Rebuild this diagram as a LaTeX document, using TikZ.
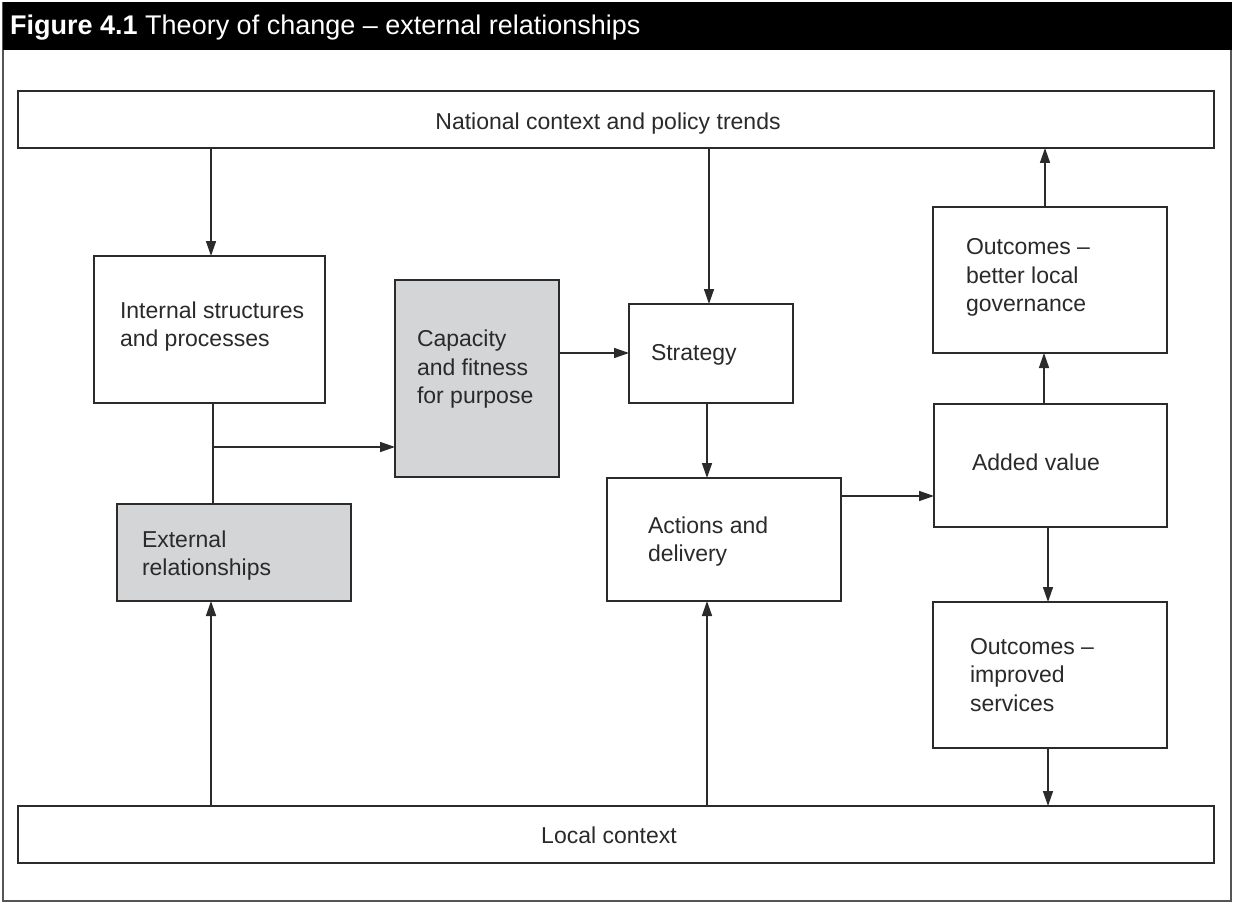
\documentclass[tikz,border=0pt]{standalone}
\usepackage{fontspec}
\setmainfont{Liberation Sans}
\usetikzlibrary{arrows.meta}
\definecolor{linec}{HTML}{2B2B2B}
\definecolor{textc}{HTML}{2A2A2A}
\definecolor{shade}{HTML}{D4D5D7}
\definecolor{framec}{HTML}{555555}
\begin{document}
\begin{tikzpicture}[x=1pt,y=-1pt,
  box/.style={draw=linec, line width=1.5pt, inner sep=0pt, outer sep=0pt, anchor=north west, fill=white},
  grey/.style={fill=shade},
  % multi-line labels are placed by the baseline of their last line
  txt/.style={inner sep=0pt, outer sep=0pt, anchor=base west, align=left, text=textc,
    font=\fontsize{23}{28.3}\selectfont},
  ctxt/.style={txt, anchor=base},
  arr/.style={draw=linec, line width=1.5pt, -{Triangle[length=15pt,width=10pt]}},
  link/.style={draw=linec, line width=1.5pt}]
\useasboundingbox (0,0) rectangle (1234,904);
% frame and title bar
\draw[framec, line width=1.5pt] (3,3) rectangle (1231,901);
\fill[black] (2.5,2.5) rectangle (1231.5,50);
\node[anchor=base west, inner sep=0pt, text=white, font=\fontsize{27}{30}\selectfont] (title) at (10,35)
  {\textbf{Figure 4.1} Theory of change – external relationships};

% boxes
\node[box, minimum width=1196pt, minimum height=57pt] (nat) at (18,91) {};
\node[box, minimum width=231pt, minimum height=147pt] (int) at (94,256) {};
\node[box, grey, minimum width=164pt, minimum height=197pt] (cap) at (395,280) {};
\node[box, minimum width=164pt, minimum height=99pt] (str) at (629,304) {};
\node[box, minimum width=234pt, minimum height=123pt] (act) at (607,478) {};
\node[box, minimum width=233pt, minimum height=123pt] (add) at (934,404) {};
\node[box, minimum width=234pt, minimum height=146pt] (obg) at (933,207) {};
\node[box, minimum width=234pt, minimum height=146pt] (ois) at (933,602) {};
\node[box, grey, minimum width=234pt, minimum height=97pt] (ext) at (117,504) {};
\node[box, minimum width=1196pt, minimum height=57pt] (loc) at (18,806) {};

% labels
\node[ctxt] (natT) at (608,130) {National context and policy trends};
\node[ctxt] (locT) at (609,843) {Local context};
\node[txt] (intT) at (120,346.5) {Internal structures\\and processes};
\node[txt] (capT) at (417,403.5) {Capacity\\and fitness\\for purpose};
\node[txt] (strT) at (651,360) {Strategy};
\node[txt] (actT) at (648,561.5) {Actions and\\delivery};
\node[txt] (addT) at (972,470) {Added value};
\node[txt] (obgT) at (966,311.5) {Outcomes –\\better local\\governance};
\node[txt] (oisT) at (970,711) {Outcomes –\\improved\\services};
\node[txt] (extT) at (142,575.5) {External\\relationships};

% connectors
\draw[arr] ([xshift=1.5pt]int.north |- nat.south) -- ([xshift=1.5pt]int.north);
\draw[arr] ([xshift=-2pt]str.north |- nat.south) -- ([xshift=-2pt]str.north);
\draw[arr] ([xshift=-5pt]obg.north) -- ([xshift=-5pt]obg.north |- nat.south);
\draw[link] ([xshift=3.5pt]int.south) -- ([xshift=3.5pt]int.south |- ext.north);
\coordinate (branch) at ([xshift=3.5pt,yshift=-44pt]int.south);
\draw[arr] (branch) -- (branch -| cap.west);
\draw[arr] ([yshift=0.5pt]str.west -| cap.east) -- ([yshift=0.5pt]str.west);
\draw[arr] ([xshift=-4pt]str.south) -- ([xshift=-4pt]str.south |- act.north);
\draw[arr] ([yshift=-18pt]act.north east) -- ([yshift=-18pt]act.north east -| add.west);
\draw[arr] ([xshift=-6.5pt]add.north) -- ([xshift=-6.5pt]add.north |- obg.south);
\draw[arr] ([xshift=-2.5pt]add.south) -- ([xshift=-2.5pt]add.south |- ois.north);
\draw[arr] ([xshift=-2pt]ois.south) -- ([xshift=-2pt]ois.south |- loc.north);
\draw[arr] ([xshift=-23pt]ext.south |- loc.north) -- ([xshift=-23pt]ext.south);
\draw[arr] ([xshift=-17pt]act.south |- loc.north) -- ([xshift=-17pt]act.south);
\end{tikzpicture}
\end{document}
